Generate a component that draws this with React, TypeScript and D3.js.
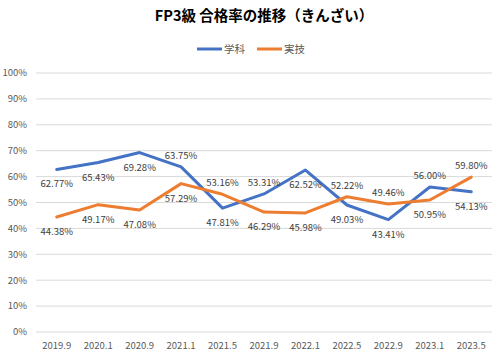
import React from "react";
import * as d3 from "d3";

const categories = ["2019.9", "2020.1", "2020.9", "2021.1", "2021.5", "2021.9", "2022.1", "2022.5", "2022.9", "2023.1", "2023.5"];
const gakka = [62.77, 65.43, 69.28, 63.75, 47.81, 53.31, 62.52, 49.03, 43.41, 56.0, 54.13];
const jitsugi = [44.38, 49.17, 47.08, 57.29, 53.16, 46.29, 45.98, 52.22, 49.46, 50.95, 59.8];
// label placement: true = above point, false = below
const gakkaAbove = [false, false, false, true, false, true, false, false, false, true, false];
const jitsugiAbove = [false, false, false, false, true, false, false, true, true, false, true];
const yTicks = [0, 10, 20, 30, 40, 50, 60, 70, 80, 90, 100];

const W = 500;
const H = 356;
const FONT = "'Noto Sans CJK JP', 'Noto Sans', sans-serif";

export default function App() {
  const x = d3.scaleBand<string>().domain(categories).range([36, 492]);
  const y = d3.scaleLinear().domain([0, 100]).range([332, 73]);
  const cx = (c: string) => (x(c) as number) + x.bandwidth() / 2;
  const line = d3
    .line<number>()
    .x((_, i) => cx(categories[i]))
    .y((d) => y(d));

  const series = [
    { name: "学科", data: gakka, above: gakkaAbove, color: "#4472C4" },
    { name: "実技", data: jitsugi, above: jitsugiAbove, color: "#ED7D31" },
  ];

  return (
    <svg
      width={W}
      height={H}
      style={{ position: "absolute", left: 0, top: 0, background: "#fff" }}
      fontFamily={FONT}
    >
      <rect x={0} y={0} width={W} height={H} fill="#fff" />
      <text x={264} y={21} textAnchor="middle" fontSize={14.5} fontWeight="bold" fill="#000">
        FP3級 合格率の推移（きんざい）
      </text>
      {/* legend */}
      <g fontSize={10.5} fill="#595959">
        <line x1={197} x2={222} y1={49} y2={49} stroke="#4472C4" strokeWidth={3} />
        <text x={224} y={53}>学科</text>
        <line x1={257} x2={282} y1={49} y2={49} stroke="#ED7D31" strokeWidth={3} />
        <text x={284} y={53}>実技</text>
      </g>
      {/* grid */}
      {yTicks.map((t) => (
        <g key={t}>
          <line x1={36} x2={492} y1={y(t)} y2={y(t)} stroke="#D9D9D9" strokeWidth={1} />
          <text x={27} y={y(t)} dy="0.35em" textAnchor="end" fontSize={9.5} fill="#595959">
            {t}%
          </text>
        </g>
      ))}
      {categories.map((c) => (
        <text key={c} x={cx(c)} y={349} textAnchor="middle" fontSize={9.5} fill="#595959">
          {c}
        </text>
      ))}
      {series.map((s) => (
        <path
          key={s.name}
          d={line(s.data) as string}
          fill="none"
          stroke={s.color}
          strokeWidth={3}
          strokeLinejoin="round"
          strokeLinecap="round"
        />
      ))}
      {series.map((s) =>
        s.data.map((v, i) => (
          <text
            key={s.name + i}
            x={cx(categories[i])}
            y={s.above[i] ? y(v) - 8 : y(v) + 18}
            textAnchor="middle"
            fontSize={9.5}
            fill="#404040"
          >
            {v.toFixed(2)}%
          </text>
        ))
      )}
    </svg>
  );
}
